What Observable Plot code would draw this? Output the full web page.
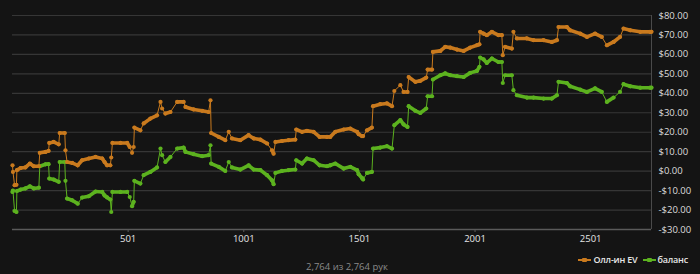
<!DOCTYPE html>
<html>
<head>
<meta charset="utf-8">
<script src="https://cdn.jsdelivr.net/npm/d3@7"></script>
<script src="https://cdn.jsdelivr.net/npm/@observablehq/plot@0.6"></script>
<style>
  html, body { margin: 0; padding: 0; background: #141414; }
  #wrap { position: relative; width: 700px; height: 274px; overflow: hidden; font-family: "Open Sans", "Noto Sans", sans-serif; }
  #foot { position: relative; width: 700px; height: 24px; }
  #caption { position: absolute; left: 0; width: 694px; text-align: center; top: 10px; font-size: 9.5px; color: #8a8a8a; white-space: nowrap; }
  #legend { position: absolute; right: 12px; top: 3px; display: flex; align-items: center; font-size: 9px; color: #e6e6e6; font-weight: 600; white-space: nowrap; letter-spacing: -0.2px; }
  .sw { display: inline-block; position: relative; width: 13px; height: 8px; margin-right: 2px; flex: none; }
  .sw::before { content: ""; position: absolute; left: 0; right: 0; top: 3.5px; height: 1.5px; }
  .sw::after { content: ""; position: absolute; left: 4px; top: 2px; width: 5px; height: 4px; border-radius: 1px; }
  .sw.ev::before, .sw.ev::after { background: #c97a1e; }
  .sw.bal::before, .sw.bal::after { background: #5cb21f; }
  .item { display: flex; align-items: center; white-space: nowrap; }
  .item + .item { margin-left: 5px; }
</style>
</head>
<body>
<div id="wrap">
  <div id="chart"></div>
  <div id="foot">
    <div id="caption">2,764 из 2,764 рук</div>
    <div id="legend">
      <span class="item"><span class="sw ev"></span>Олл-ин EV</span>
      <span class="item"><span class="sw bal"></span>баланс</span>
    </div>
  </div>
</div>
<script>
// Hand numbers where values were read
const hands = [1,3,10,18,20,36,57,76,93,115,119,144,157,160,179,201,205,227,230,237,259,283,302,331,360,389,399,410,424,428,433,468,497,508,518,525,528,554,568,597,626,641,648,662,684,713,741,749,784,821,849,857,860,893,921,936,950,986,1022,1044,1073,1102,1123,1130,1138,1166,1195,1224,1228,1253,1274,1303,1329,1361,1375,1397,1433,1462,1491,1498,1512,1517,1534,1555,1560,1591,1620,1642,1652,1678,1692,1709,1714,1743,1764,1790,1796,1815,1819,1851,1872,1894,1923,1952,1980,2009,2020,2023,2038,2052,2074,2102,2117,2121,2131,2160,2167,2182,2225,2254,2297,2333,2355,2362,2398,2412,2456,2485,2520,2549,2571,2600,2628,2643,2672,2715,2758,2764];
// All-in EV ($)
const allinEV = [3.0,-0.4,-7.2,-7.0,0.5,1.6,1.9,3.9,2.5,2.5,9.4,9.9,10.4,14.5,15.0,13.8,19.6,19.6,10.7,4.7,4.2,3.0,5.6,6.5,7.3,6.5,4.7,3.0,3.0,7.0,14.5,14.5,14.5,12.4,9.4,12.4,22.4,21.0,24.5,27.0,28.7,35.6,32.2,29.6,30.4,35.6,35.6,33.0,31.7,31.0,30.4,36.4,19.6,17.6,15.9,20.2,16.8,15.9,18.5,16.8,16.2,14.2,10.7,9.0,15.0,15.5,15.9,16.2,21.4,20.2,20.7,20.2,17.6,17.6,17.6,20.2,21.4,21.9,20.2,19.0,18.0,18.0,21.0,22.4,33.4,34.4,34.8,33.4,41.2,44.2,40.7,40.7,48.4,45.9,46.4,48.1,52.2,52.2,61.3,61.8,63.9,63.5,62.5,61.8,63.5,64.7,65.2,71.6,70.7,69.9,71.6,69.9,69.9,59.6,63.9,63.0,71.6,68.2,68.2,67.3,67.3,66.4,67.3,74.1,74.1,72.4,70.7,69.0,70.7,69.0,64.7,66.4,69.0,73.3,72.4,71.6,71.6,71.6];
// Balance ($)
const balance = [-10.7,-10.0,-20.5,-21.0,-10.2,-9.5,-8.9,-7.8,-8.9,-8.5,2.5,3.5,3.6,-3.8,-4.3,-5.5,4.7,4.7,-5.0,-14.1,-15.0,-16.7,-13.6,-12.9,-10.5,-10.7,-12.5,-13.5,-14.6,-21.0,-10.7,-10.7,-10.7,-13.3,-18.0,-15.8,-5.0,-6.4,-2.1,-0.4,1.9,11.6,8.2,4.7,7.3,11.6,12.1,9.9,8.7,7.7,8.2,13.3,3.9,2.2,0.1,4.7,1.9,0.8,3.0,0.8,0.5,-2.1,-4.7,-6.7,-0.9,0.1,0.5,0.8,5.6,3.9,6.5,5.6,3.0,2.5,3.0,3.9,1.3,2.2,0.5,-1.6,-3.5,-4.3,-0.9,-0.4,11.6,12.1,12.8,11.6,23.6,26.2,24.0,22.7,33.4,31.0,29.9,32.2,38.5,38.5,47.1,49.3,50.2,49.3,48.8,48.4,50.5,51.5,53.6,58.4,57.4,55.6,57.9,56.1,56.1,45.3,49.3,49.3,41.6,39.0,37.8,37.8,37.3,37.3,39.0,45.9,45.3,43.6,41.9,40.7,42.5,40.7,35.6,37.8,40.7,44.7,43.6,42.9,42.9,42.9];
// Axis ticks
const yTicks = [-30,-20,-10,0,10,20,30,40,50,60,70,80];
const xTicks = [501,1001,1501,2001,2501];

const series = [
  {name: "баланс", values: balance, color: "#5cb21f"},
  {name: "Олл-ин EV", values: allinEV, color: "#c97a1e"}
];

const points = [];
const segs = [];
for (const s of series) {
  s.values.forEach((v, i) => {
    points.push({h: hands[i], v, name: s.name, color: s.color});
    if (i > 0) {
      const p = s.values[i - 1];
      segs.push({h1: hands[i - 1], v1: p, h2: hands[i], v2: v, color: s.color, jump: Math.abs(v - p) > 2.6});
    }
  });
}

const fmt = d => (d < 0 ? "-" : "") + "$" + Math.abs(d).toFixed(2);

const chart = Plot.plot({
  width: 700,
  height: 250,
  marginLeft: 12,
  marginRight: 49,
  marginTop: 15,
  marginBottom: 21,
  style: {background: "#141414", color: "#e0e0e0", fontFamily: "'Open Sans', 'Noto Sans', sans-serif", fontSize: "9.5px"},
  x: {domain: [1, 2764]},
  y: {domain: [-30, 80]},
  marks: [
    Plot.ruleY(yTicks.filter(d => d > -30), {stroke: "#363636", strokeWidth: 1.2}),
    Plot.ruleY([-30], {stroke: "#5a5a5a", strokeWidth: 1.5}),
    Plot.ruleX([2764], {y1: -30, y2: 80, stroke: "#4a4a4a"}),
    Plot.link(segs.filter(d => d.jump), {x1: "h1", y1: "v1", x2: "h2", y2: "v2", stroke: "color", strokeWidth: 1}),
    Plot.link(segs.filter(d => !d.jump), {x1: "h1", y1: "v1", x2: "h2", y2: "v2", stroke: "color", strokeWidth: 3.6, strokeLinecap: "round"}),
    Plot.dot(points, {x: "h", y: "v", fill: "color", r: 2.1}),
    Plot.axisY({anchor: "right", ticks: yTicks, tickSize: 0, tickPadding: 7, tickFormat: fmt, label: null, fill: "#dcdcdc"}),
    Plot.axisX({ticks: xTicks, tickSize: 3, tickPadding: 3, stroke: "#5a5a5a", label: null, fill: "#e6e6e6", tickFormat: d => String(d)})
  ]
});
document.getElementById("chart").appendChild(chart);
</script>
</body>
</html>
